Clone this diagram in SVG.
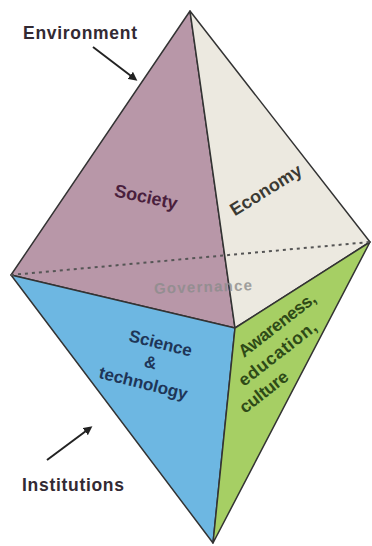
<svg xmlns="http://www.w3.org/2000/svg" width="372" height="546" viewBox="0 0 372 546">
<style>
.face{stroke:#333;stroke-width:1.5;stroke-linejoin:round}
.lbl{font-family:"Liberation Sans",Arial,sans-serif;font-weight:bold}
.aw{font-size:17.5px;fill:#2e4a17}
</style>
<defs>
<marker id="ah" markerWidth="9" markerHeight="9" refX="6" refY="4.5" orient="auto" markerUnits="userSpaceOnUse">
<path d="M0,0 L9,4.5 L0,9 Z" fill="#222"/>
</marker>
</defs>
<rect width="372" height="546" fill="#fff"/>
<g id="society"><polygon class="face" points="190,11 11,275 235,328" fill="#b897a8"/>
<text class="lbl" x="146" y="203" font-size="18" fill="#4a1f3d" text-anchor="middle" transform="rotate(12 146 197)">Society</text></g>
<g id="economy"><polygon class="face" points="190,11 235,328 370,242" fill="#ece9e0"/>
<text class="lbl" x="266" y="196" font-size="18" fill="#3b3a33" text-anchor="middle" transform="rotate(-32 266 190)">Economy</text></g>
<g id="governance"><text class="lbl" x="203" y="292" font-size="15" fill="#8c8c8c" text-anchor="middle" textLength="98" transform="rotate(-2 203 287)" opacity="0.8">Governance</text></g>
<g id="science"><polygon class="face" points="11,275 235,328 213,543" fill="#6db7e2"/>
<text class="lbl" font-size="17" fill="#1e3557" text-anchor="middle" transform="rotate(14 150 365)"><tspan x="155" y="347">Science</tspan><tspan x="150" y="368">&amp;</tspan><tspan x="148" y="390">technology</tspan></text></g>
<g id="awareness"><polygon class="face" points="235,328 370,242 213,543" fill="#a6cf64"/>
<text class="lbl aw" x="244" y="358" textLength="93" transform="rotate(-38 244 358)">Awareness,</text>
<text class="lbl aw" x="244" y="387" textLength="94" transform="rotate(-38 244 387)">education,</text>
<text class="lbl aw" x="245" y="414" textLength="57" transform="rotate(-38 245 414)">culture</text></g>
<g id="environment"><text class="lbl" x="23" y="39" font-size="17.5" fill="#332a33" textLength="114">Environment</text></g>
<g id="institutions"><text class="lbl" x="22" y="491" font-size="17.5" fill="#332a33" textLength="102">Institutions</text></g>
<g id="connectors">
<line x1="11" y1="275" x2="370" y2="242" stroke="#555" stroke-width="2" stroke-dasharray="3 4"/>
<line x1="93" y1="47" x2="135" y2="79" stroke="#222" stroke-width="2" marker-end="url(#ah)"/>
<line x1="47" y1="460" x2="90" y2="428" stroke="#222" stroke-width="2" marker-end="url(#ah)"/>
</g>
</svg>
